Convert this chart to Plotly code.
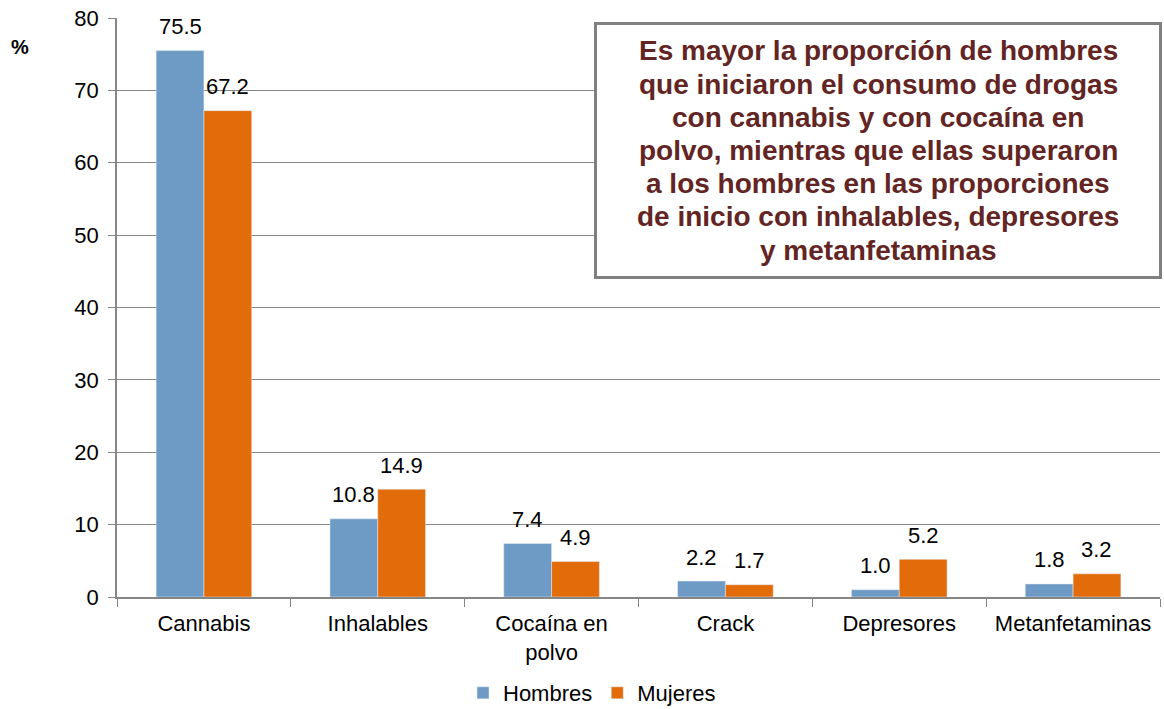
import plotly.graph_objects as go

categories = ["Cannabis", "Inhalables", "Cocaína en<br>polvo", "Crack", "Depresores", "Metanfetaminas"]
hombres = [75.5, 10.8, 7.4, 2.2, 1.0, 1.8]
mujeres = [67.2, 14.9, 4.9, 1.7, 5.2, 3.2]
y_ticks = [0, 10, 20, 30, 40, 50, 60, 70, 80]

note_lines = [
    "Es mayor la proporción de hombres",
    "que iniciaron el consumo de drogas",
    "con cannabis y con cocaína en",
    "polvo, mientras que ellas superaron",
    "a los hombres en las proporciones",
    "de inicio con inhalables, depresores",
    "y metanfetaminas",
]

FONT = "Liberation Sans, Arial, sans-serif"
FS = 22
W, H = 1164, 709
ML, MR, MT, MB = 117, 4, 18, 112
PW, PH = W - ML - MR, H - MT - MB
BARGAP = 0.45
BAR_OFFSET = PW / len(categories) * (1 - BARGAP) / 4  # px from category centre to bar centre


def px_x(px):
    return (px - ML) / PW


def px_y(py):
    return (H - MB - py) / PH


fig = go.Figure()
fig.add_trace(go.Bar(name="Hombres", x=categories, y=hombres, marker_color="#6E9BC5"))
fig.add_trace(go.Bar(name="Mujeres", x=categories, y=mujeres, marker_color="#E36C0A"))

annotations = [
    dict(text="<b>%</b>", xref="paper", yref="paper", x=px_x(20), y=px_y(47),
         xanchor="center", yanchor="middle", showarrow=False, font=dict(size=20)),
]
for series, shift in ((hombres, -BAR_OFFSET), (mujeres, BAR_OFFSET)):
    for cat, val in zip(categories, series):
        annotations.append(dict(
            text=f"{val:.1f}", x=cat, y=val, xref="x", yref="y",
            xshift=shift, yshift=24, xanchor="center", yanchor="middle",
            showarrow=False, font=dict(size=FS, color="#000000")))
for i, line in enumerate(note_lines):
    annotations.append(dict(
        text="<b>" + line + "</b>", xref="paper", yref="paper",
        x=px_x(878), y=px_y(51 + i * 33.2), xanchor="center", yanchor="middle",
        showarrow=False, font=dict(size=28, color="#632523")))

fig.update_layout(
    width=W, height=H,
    margin=dict(l=ML, r=MR, t=MT, b=MB),
    paper_bgcolor="white", plot_bgcolor="white",
    font=dict(family=FONT, size=FS, color="#000000"),
    barmode="group", bargap=BARGAP, bargroupgap=0,
    showlegend=True,
    legend=dict(orientation="h", x=px_x(592), xanchor="center",
                yref="container", y=1 - 693 / H, yanchor="middle",
                font=dict(size=FS), itemwidth=30, tracegroupgap=0),
    xaxis=dict(showline=True, linecolor="#868686", linewidth=1.5, automargin=False,
               ticks="outside", tickson="boundaries", ticklen=8, tickcolor="#868686",
               ticklabelstandoff=6, tickfont=dict(size=FS)),
    yaxis=dict(range=[0, 80], tickvals=y_ticks, showgrid=True, gridcolor="#868686",
               gridwidth=1, showline=True, linecolor="#868686", linewidth=1.5,
               ticks="outside", ticklen=7, tickcolor="#868686", zeroline=False,
               ticklabelstandoff=5, automargin=False, tickfont=dict(size=FS)),
    shapes=[dict(type="rect", xref="paper", yref="paper",
                 x0=px_x(595.5), x1=px_x(1160.5), y0=px_y(277.5), y1=px_y(23.5),
                 line=dict(color="#808080", width=3), fillcolor="white", layer="above")],
    annotations=annotations,
)

fig.write_html(
    "out.html",
    config={"displayModeBar": False},
    post_script=("document.body.style.margin='0';document.body.style.overflow='hidden';"
                 "Plotly.relayout(document.getElementById('{plot_id}'),{width:1164,height:709});"),
)
